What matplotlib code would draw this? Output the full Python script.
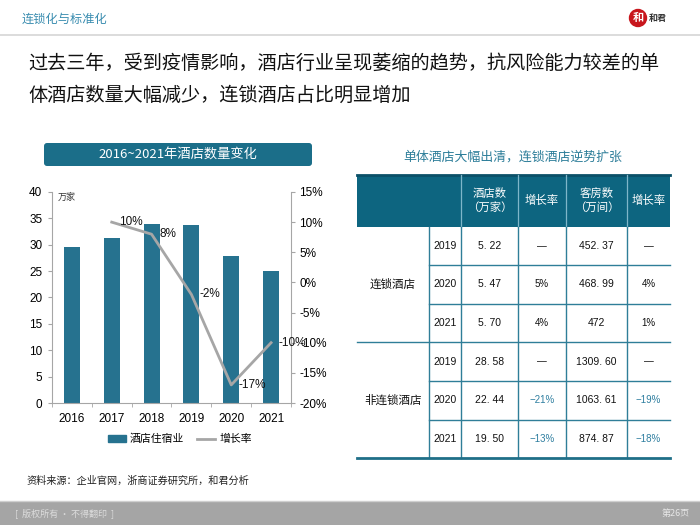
#!/usr/bin/env python3
"""Hotel count slide: bar + growth line on the left, chain vs. non-chain table on the right."""

import matplotlib
matplotlib.use("Agg")
import matplotlib.pyplot as plt
from matplotlib.patches import FancyBboxPatch, Rectangle, Circle
from matplotlib.lines import Line2D

plt.rcParams["font.family"] = ["Noto Sans CJK SC", "DejaVu Sans"]
NUM_FONT = ["Liberation Sans", "Noto Sans CJK SC"]

# ---- data -------------------------------------------------------------
years = ["2016", "2017", "2018", "2019", "2020", "2021"]
hotels = [29.5, 31.2, 34.0, 33.7, 27.9, 25.1]          # 万家
growth = [None, 10, 8, -2, -17, -10]                    # %
growth_labels = ["", "10%", "8%", "-2%", "-17%", "-10%"]

table_groups = ["连锁酒店", "非连锁酒店"]
table_years = ["2019", "2020", "2021"]
chain_hotels = ["5. 22", "5. 47", "5. 70"]
chain_hotel_growth = ["—", "5%", "4%"]
chain_rooms = ["452. 37", "468. 99", "472"]
chain_room_growth = ["—", "4%", "1%"]
indep_hotels = ["28. 58", "22. 44", "19. 50"]
indep_hotel_growth = ["—", "-21%", "-13%"]
indep_rooms = ["1309. 60", "1063. 61", "874. 87"]
indep_room_growth = ["—", "-19%", "-18%"]
header_cols = ["酒店数\n（万家）", "增长率", "客房数\n（万间）", "增长率"]

TEAL = "#1b6e89"
BAR = "#26728f"
GREY_LINE = "#a6a6a6"

W, H = 700, 525
fig = plt.figure(figsize=(7, 5.25), dpi=100)


def px_axes(x0, y0, x1, y1):
    return fig.add_axes([x0 / W, 1 - y1 / H, (x1 - x0) / W, (y1 - y0) / H])


# full-figure overlay in pixel coordinates for slide decoration + table
ov = fig.add_axes([0, 0, 1, 1])
ov.set_xlim(0, W)
ov.set_ylim(H, 0)
ov.axis("off")

# header
ov.text(22, 19, "连锁化与标准化", fontsize=8.8, color="#3a8db0", va="center")
ov.plot([0, W], [35, 35], color="#d6d6d6", lw=1.2)
ov.add_patch(Circle((638, 18), 8.5, color="#c8161d"))
ov.text(638, 17.5, "和", fontsize=8, color="white", ha="center", va="center", weight="bold")
ov.text(649, 19, "和君", fontsize=6.5, color="#333333", va="center", weight="bold")

ov.text(28, 63, "过去三年，受到疫情影响，酒店行业呈现萎缩的趋势，抗风险能力较差的单",
        fontsize=13.8, color="#111111", va="center")
ov.text(28, 95, "体酒店数量大幅减少，连锁酒店占比明显增加",
        fontsize=13.8, color="#111111", va="center")

# chart title banner
ov.add_patch(FancyBboxPatch((44, 143), 268, 23, boxstyle="round,pad=0,rounding_size=3",
                            fc=TEAL, ec="none"))
ov.text(178, 154.5, "2016~2021年酒店数量变化", fontsize=9.5, color="white",
        ha="center", va="center")

# source + footer
ov.text(26, 481, "资料来源：企业官网，浙商证券研究所，和君分析", fontsize=7.3,
        color="#222222", va="center")
ov.add_patch(Rectangle((0, 502), W, 23, fc="#a5a5a5", ec="none"))
ov.plot([0, W], [501, 501], color="#cfcfcf", lw=1)
ov.text(15, 513, "[  版权所有 • 不得翻印  ]", fontsize=6.5, color="#dcdcdc", va="center")
ov.text(690, 513, "第26页", fontsize=6.5, color="#e6e6e6", va="center", ha="right")

# ---- bar + line chart ---------------------------------------------------
ax = px_axes(52, 192, 291, 403)
x = list(range(len(years)))
ax.bar(x, hotels, width=0.4, color=BAR, zorder=2)
ax.set_xlim(-0.5, len(years) - 0.5)
ax.set_ylim(0, 40)
ax.set_yticks(range(0, 41, 5))
ax.set_xticks(x)
ax.set_xticklabels(years)
ax.set_xticks([i - 0.5 for i in range(len(years) + 1)], minor=True)
ax.tick_params(axis="x", which="major", length=0, pad=7, labelsize=8.5)
ax.tick_params(axis="x", which="minor", length=3, color=GREY_LINE)
ax.tick_params(axis="y", length=3, color=GREY_LINE, labelsize=8.5, pad=4)
for lab in ax.get_xticklabels() + ax.get_yticklabels():
    lab.set_fontfamily(NUM_FONT)
for side in ["top", "right"]:
    ax.spines[side].set_visible(False)
for side in ["left", "bottom"]:
    ax.spines[side].set_color(GREY_LINE)
ax.text(-0.35, 39.0, "万家", fontsize=6.5, color="#333333", va="center")

ax2 = ax.twinx()
gx = [i for i, g in zip(x, growth) if g is not None]
gy = [g for g in growth if g is not None]
ax2.plot(gx, gy, color=GREY_LINE, lw=2, zorder=3)
ax2.set_ylim(-20, 15)
ax2.set_yticks(range(-20, 16, 5))
ax2.set_yticklabels([f"{v}%" for v in range(-20, 16, 5)])
ax2.tick_params(axis="y", length=3, color=GREY_LINE, labelsize=8.5, pad=3)
for lab in ax2.get_yticklabels():
    lab.set_fontfamily(NUM_FONT)
for side in ["top", "left", "bottom"]:
    ax2.spines[side].set_visible(False)
ax2.spines["right"].set_color(GREY_LINE)
for xi, g, lab in zip(x, growth, growth_labels):
    if g is None:
        continue
    ax2.annotate(lab, (xi, g), xytext=(5.5, 0), textcoords="offset points",
                 fontsize=8.5, family=NUM_FONT, va="center", ha="left",
                 color="#111111", zorder=4)

handles = [Rectangle((0, 0), 1, 1, color=BAR), Line2D([0], [0], color=GREY_LINE, lw=2)]
fig.legend(handles, ["酒店住宿业", "增长率"], loc="center", bbox_to_anchor=(180 / W, 1 - 439 / H),
           ncol=2, frameon=False, fontsize=7.8, handlelength=1.6, handleheight=0.6,
           columnspacing=1.2, handletextpad=0.4)

# ---- table --------------------------------------------------------------
ov.text(513, 157, "单体酒店大幅出清，连锁酒店逆势扩张", fontsize=9.3, color="#2c7d99",
        ha="center", va="center")

col_x = [357, 429, 461, 518, 566, 627, 670]
head_top, head_bot = 174.5, 226.5
row_h = 38.6
ov.add_patch(Rectangle((col_x[0], head_top), col_x[-1] - col_x[0], head_bot - head_top,
                       fc="#0d6580", ec="none"))
ov.plot([col_x[0], col_x[-1]], [head_top, head_top], color="#0b5068", lw=2)
for cx in col_x[2:-1]:
    ov.plot([cx, cx], [head_top, head_bot], color="#7fb6c9", lw=0.9)
for i, lab in enumerate(header_cols):
    ov.text((col_x[i + 2] + col_x[i + 3]) / 2, (head_top + head_bot) / 2, lab,
            fontsize=8.2, color="white", ha="center", va="center", linespacing=1.35)

group_cols = [
    [chain_hotels, chain_hotel_growth, chain_rooms, chain_room_growth],
    [indep_hotels, indep_hotel_growth, indep_rooms, indep_room_growth],
]
LINE = "#2f7e98"
for gi, (gname, cols) in enumerate(zip(table_groups, group_cols)):
    g_top = head_bot + gi * 3 * row_h
    ov.text((col_x[0] + col_x[1]) / 2, g_top + 1.5 * row_h, gname, fontsize=8.3,
            color="#111111", ha="center", va="center")
    for ri, yr in enumerate(table_years):
        cy = g_top + (ri + 0.5) * row_h
        ov.text((col_x[1] + col_x[2]) / 2, cy, yr, fontsize=7.5, family=NUM_FONT,
                color="#111111", ha="center", va="center")
        for ci, col in enumerate(cols):
            val = col[ri]
            neg = val.startswith("-")
            ov.text((col_x[ci + 2] + col_x[ci + 3]) / 2, cy, val.replace("-", "−"),
                    fontsize=7.5 if ci % 2 == 0 else 7, family=NUM_FONT,
                    color="#2f7fa0" if neg else "#111111", ha="center", va="center")
        if ri < 2:
            ov.plot([col_x[1], col_x[-1]], [g_top + (ri + 1) * row_h] * 2, color=LINE, lw=1)
    if gi == 0:
        ov.plot([col_x[0], col_x[-1]], [g_top + 3 * row_h] * 2, color=LINE, lw=1)

t_bot = head_bot + 6 * row_h
for cx in col_x[1:-1]:
    ov.plot([cx, cx], [head_bot, t_bot], color=LINE, lw=1)
ov.plot([col_x[0], col_x[-1]], [t_bot, t_bot], color="#1f6f88", lw=2)

fig.savefig("out.png", dpi=100)
